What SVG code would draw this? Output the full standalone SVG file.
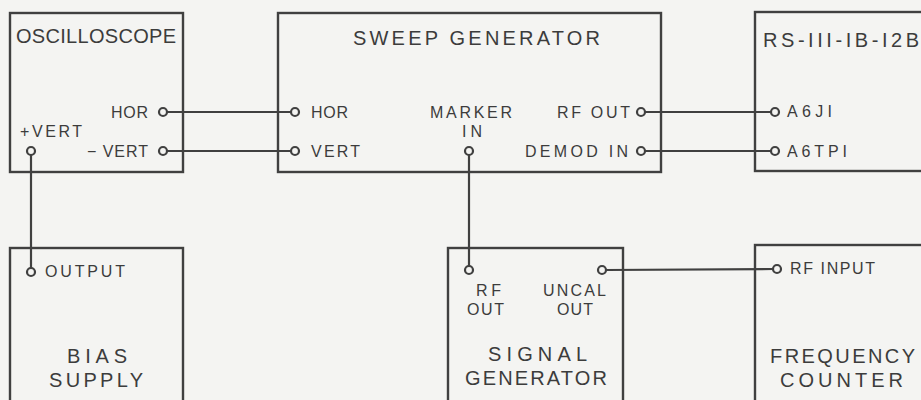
<svg xmlns="http://www.w3.org/2000/svg" width="921" height="400" viewBox="0 0 921 400">
<style>
.box{fill:none;stroke:#404040;stroke-width:2.4}
.wire{fill:none;stroke:#404040;stroke-width:2.2}
.term{fill:#f4f4f2;stroke:#404040;stroke-width:2.2}
text{font-family:"Liberation Sans",Arial,sans-serif;fill:#3c3c3c}
.t{font-size:20px}
.l{font-size:16px}
</style>
<rect width="921" height="400" fill="#f4f4f2"/>
<g id="connectors">
<line class="wire" x1="167" y1="112" x2="291" y2="112"/>
<line class="wire" x1="167" y1="151" x2="291" y2="151"/>
<line class="wire" x1="645" y1="112" x2="771" y2="112"/>
<line class="wire" x1="645" y1="151" x2="771" y2="151"/>
<line class="wire" x1="31" y1="155" x2="31" y2="268"/>
<line class="wire" x1="469" y1="155" x2="469" y2="266"/>
<line class="wire" x1="606" y1="270" x2="773" y2="269"/>
</g>
<g id="oscilloscope">
<rect class="box" x="10" y="13" width="173" height="159"/>
<text class="t" x="16" y="43" textLength="160">OSCILLOSCOPE</text>
<text class="l" x="111" y="118" textLength="37">HOR</text>
<text class="l" x="87" y="157" textLength="61">− VERT</text>
<text class="l" x="20" y="137" textLength="62">+VERT</text>
<circle class="term" cx="163" cy="112" r="4"/>
<circle class="term" cx="163" cy="151" r="4"/>
<circle class="term" cx="31" cy="151" r="4"/>
</g>
<g id="sweep-generator">
<rect class="box" x="278" y="13" width="383" height="159"/>
<text class="t" x="353" y="45" textLength="247">SWEEP GENERATOR</text>
<text class="l" x="311" y="118" textLength="37">HOR</text>
<text class="l" x="311" y="157" textLength="49">VERT</text>
<text class="l" x="430" y="118" textLength="82">MARKER</text>
<text class="l" x="462" y="137" textLength="20">IN</text>
<text class="l" x="557" y="118" textLength="73">RF OUT</text>
<text class="l" x="525" y="157" textLength="103">DEMOD IN</text>
<circle class="term" cx="295" cy="112" r="4"/>
<circle class="term" cx="295" cy="151" r="4"/>
<circle class="term" cx="469" cy="151" r="4"/>
<circle class="term" cx="641" cy="112" r="4"/>
<circle class="term" cx="641" cy="151" r="4"/>
</g>
<g id="rs-111-1b-12b">
<rect class="box" x="755" y="12" width="172" height="159"/>
<text class="t" x="763" y="47" textLength="156">RS-III-IB-I2B</text>
<text class="l" x="787" y="117" textLength="45">A6JI</text>
<text class="l" x="787" y="157" textLength="60">A6TPI</text>
<circle class="term" cx="775" cy="112" r="4"/>
<circle class="term" cx="775" cy="151" r="4"/>
</g>
<g id="bias-supply">
<rect class="box" x="10" y="248" width="173" height="160"/>
<text class="l" x="45" y="277" textLength="80">OUTPUT</text>
<text class="t" x="67" y="363" textLength="60">BIAS</text>
<text class="t" x="49" y="387" textLength="94">SUPPLY</text>
<circle class="term" cx="31" cy="272" r="4"/>
</g>
<g id="signal-generator">
<rect class="box" x="448" y="248" width="175" height="160"/>
<text class="l" x="476" y="296" textLength="25">RF</text>
<text class="l" x="467" y="315" textLength="37">OUT</text>
<text class="l" x="543" y="296" textLength="63">UNCAL</text>
<text class="l" x="557" y="315" textLength="36">OUT</text>
<text class="t" x="488" y="361" textLength="99">SIGNAL</text>
<text class="t" x="465" y="385" textLength="142">GENERATOR</text>
<circle class="term" cx="469" cy="270" r="4"/>
<circle class="term" cx="602" cy="270" r="4"/>
</g>
<g id="frequency-counter">
<rect class="box" x="755" y="245" width="172" height="163"/>
<text class="l" x="790" y="274" textLength="85">RF INPUT</text>
<text class="t" x="770" y="363" textLength="145">FREQUENCY</text>
<text class="t" x="780" y="387" textLength="123">COUNTER</text>
<circle class="term" cx="777" cy="269" r="4"/>
</g>
</svg>
